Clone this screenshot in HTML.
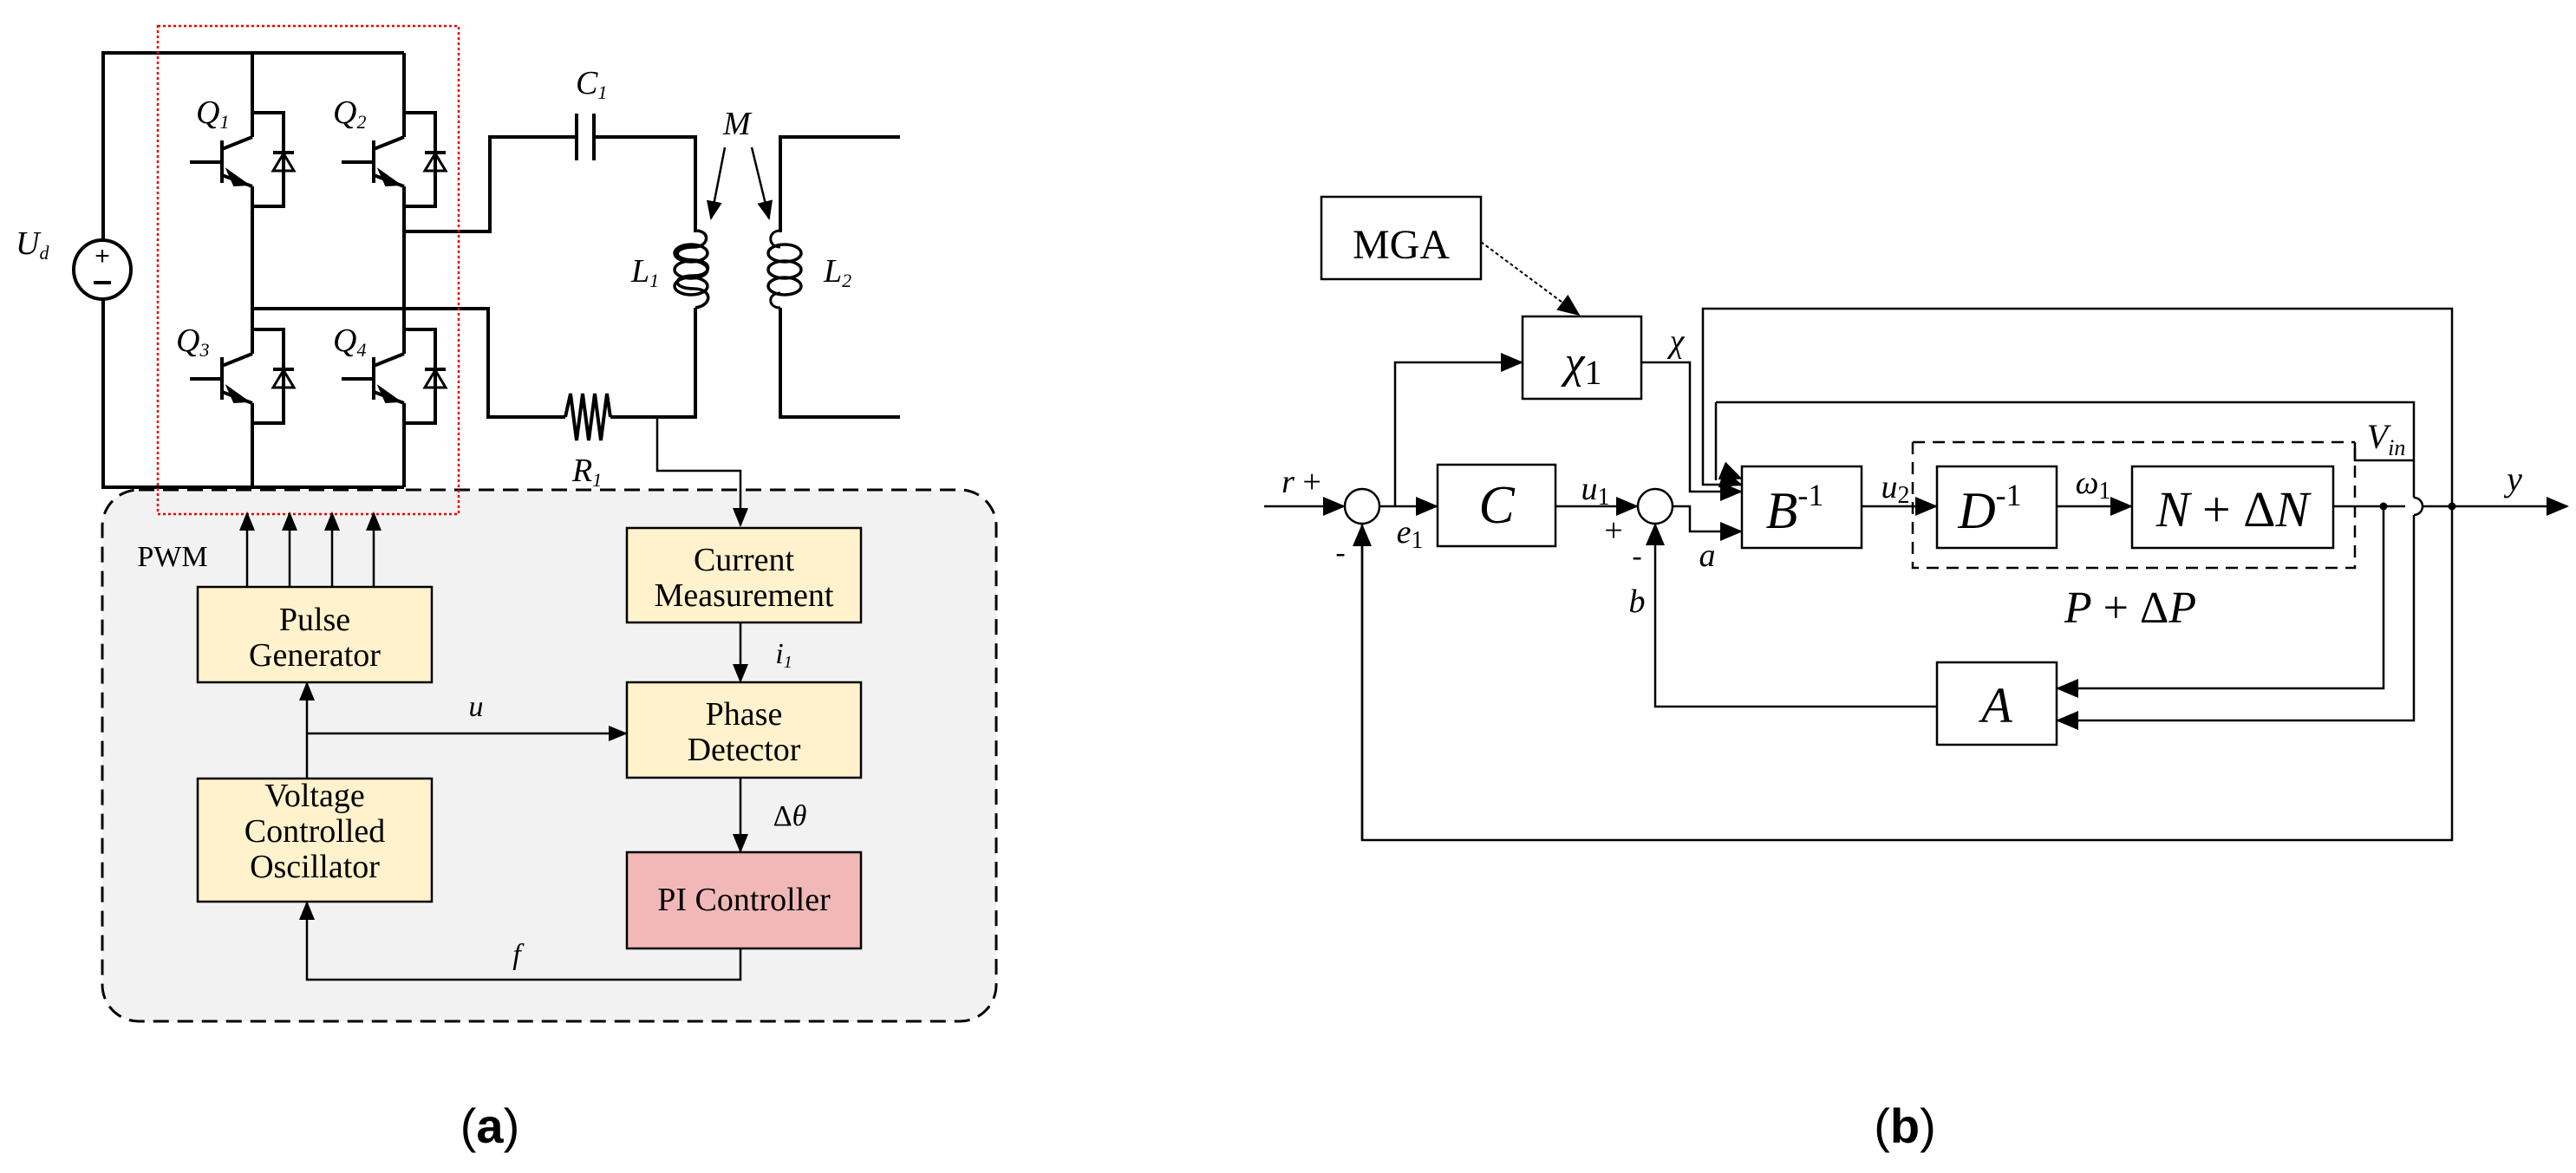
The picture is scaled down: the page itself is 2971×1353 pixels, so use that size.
<!DOCTYPE html>
<html><head><meta charset="utf-8"><style>
html,body{margin:0;padding:0;background:#fff;}
svg{display:block;}
.s{font-family:"Liberation Serif",serif;}
</style></head><body>
<svg width="2971" height="1353" viewBox="0 0 2971 1353" xmlns="http://www.w3.org/2000/svg">
<defs>
<marker id="ah" markerWidth="10" markerHeight="10" refX="9" refY="5" orient="auto" markerUnits="userSpaceOnUse"><path d="M0,0 L10,5 L0,10 z" fill="#000"/></marker>
<marker id="a2" markerWidth="22" markerHeight="22" refX="20" refY="11" orient="auto" markerUnits="userSpaceOnUse"><path d="M0,2 L22,11 L0,20 z" fill="#000"/></marker>
<marker id="a3" markerWidth="26" markerHeight="26" refX="24" refY="13" orient="auto" markerUnits="userSpaceOnUse"><path d="M0,2 L26,13 L0,24 z" fill="#000"/></marker>
</defs>

<!-- ===== (a) ===== -->
<rect x="118" y="565" width="1031" height="613" rx="42" fill="#f2f2f2" stroke="#000" stroke-width="3" stroke-dasharray="18,10"/>

<g stroke="#000" stroke-width="4" fill="none">
<!-- rails -->
<polyline points="291,61 119,61 119,278"/>
<polyline points="119,344 119,562 466,562"/>
<line x1="291" y1="61" x2="466" y2="61"/>
<line x1="291" y1="61" x2="291" y2="158"/>
<line x1="291" y1="215" x2="291" y2="408"/>
<line x1="291" y1="465" x2="291" y2="562"/>
<line x1="466" y1="61" x2="466" y2="158"/>
<line x1="466" y1="215" x2="466" y2="408"/>
<line x1="466" y1="465" x2="466" y2="562"/>
<!-- source -->
<ellipse cx="118" cy="311" rx="33" ry="34"/>
</g>
<text x="118" y="305" font-family="Liberation Sans,sans-serif" font-size="30" text-anchor="middle">+</text>
<line x1="108" y1="326" x2="128" y2="326" stroke="#000" stroke-width="4"/>

<!-- transistors -->
<g id="tr" stroke="#000" stroke-width="4" fill="none">
<line x1="219" y1="187" x2="256" y2="187"/>
<line x1="256" y1="162" x2="256" y2="211"/>
<line x1="256" y1="172" x2="291" y2="158"/>
<line x1="256" y1="202" x2="291" y2="215"/>
<polyline points="291,130 327,130 327,238 291,238"/>
<line x1="315" y1="176" x2="339" y2="176"/>
<path d="M315,197 L339,197 L327,177 z" stroke-width="3"/>
<path d="M262,196 L286,213 L270,214 z" fill="#000" stroke-width="2"/>
</g>
<use href="#tr" transform="translate(175,0)"/>
<use href="#tr" transform="translate(0,250)"/>
<use href="#tr" transform="translate(175,250)"/>

<g stroke="#000" stroke-width="4" fill="none">
<!-- output network -->
<polyline points="466,267 565,267 565,158 665,158"/>
<line x1="665" y1="131" x2="665" y2="185"/>
<line x1="685" y1="131" x2="685" y2="185"/>
<polyline points="685,158 802,158 802,268"/>
<polyline points="802,355 802,481 704,481"/>
<polyline points="704,481 700,454 693,508 686,454 679,508 672,454 665,508 658,454 652,481"/>
<polyline points="652,481 563,481 563,356 291,356"/>
<!-- L1 coil -->
<path d="M802,266 C820,266 818,285 800,285 C775,285 775,300 800,300 C822,300 822,318 800,318 C775,318 775,333 800,333 C822,333 822,352 802,355" stroke-width="3.5"/>
<ellipse cx="797" cy="292" rx="19" ry="10" stroke-width="3.5"/>
<ellipse cx="797" cy="311" rx="19" ry="10" stroke-width="3.5"/>
<ellipse cx="797" cy="330" rx="19" ry="10" stroke-width="3.5"/>
<!-- L2 -->
<polyline points="1038,158 900,158 900,268"/>
<polyline points="900,355 900,481 1038,481"/>
<ellipse cx="905" cy="292" rx="19" ry="10" stroke-width="3.5"/>
<ellipse cx="905" cy="311" rx="19" ry="10" stroke-width="3.5"/>
<ellipse cx="905" cy="330" rx="19" ry="10" stroke-width="3.5"/>
<path d="M900,266 C885,266 885,285 900,285 M900,355 C885,355 885,338 900,338" stroke-width="3"/>
</g>
<line x1="836" y1="170" x2="820" y2="252" stroke="#000" stroke-width="2.5" marker-end="url(#a2)"/>
<line x1="867" y1="170" x2="887" y2="252" stroke="#000" stroke-width="2.5" marker-end="url(#a2)"/>
<polyline points="758,481 758,543 854,543 854,606" fill="none" stroke="#000" stroke-width="2.5" marker-end="url(#a2)"/>

<g class="s" font-style="italic" font-size="38">
<text x="226" y="142">Q<tspan font-size="22" dy="6">1</tspan></text>
<text x="384" y="142">Q<tspan font-size="22" dy="6">2</tspan></text>
<text x="203" y="405">Q<tspan font-size="22" dy="6">3</tspan></text>
<text x="384" y="405">Q<tspan font-size="22" dy="6">4</tspan></text>
<text x="18" y="293">U<tspan font-size="22" dy="6">d</tspan></text>
<text x="664" y="108">C<tspan font-size="22" dy="6">1</tspan></text>
<text x="834" y="155">M</text>
<text x="728" y="325">L<tspan font-size="22" dy="6">1</tspan></text>
<text x="950" y="325">L<tspan font-size="22" dy="6">2</tspan></text>
<text x="660" y="555">R<tspan font-size="22" dy="6">1</tspan></text>
</g>

<!-- red dotted -->
<rect x="182" y="30" width="347" height="563" fill="none" stroke="#e00" stroke-width="2.5" stroke-dasharray="3,3"/>

<!-- control blocks -->
<g stroke="#000" stroke-width="2.5">
<rect x="228" y="677" width="270" height="110" fill="#fff2cc"/>
<rect x="228" y="898" width="270" height="142" fill="#fff2cc"/>
<rect x="723" y="609" width="270" height="109" fill="#fff2cc"/>
<rect x="723" y="787" width="270" height="110" fill="#fff2cc"/>
<rect x="723" y="983" width="270" height="111" fill="#f2b8b8"/>
</g>
<g stroke="#000" stroke-width="2.5" fill="none">
<line x1="285" y1="677" x2="285" y2="592" marker-end="url(#a2)"/>
<line x1="334" y1="677" x2="334" y2="592" marker-end="url(#a2)"/>
<line x1="383" y1="677" x2="383" y2="592" marker-end="url(#a2)"/>
<line x1="431" y1="677" x2="431" y2="592" marker-end="url(#a2)"/>
<line x1="854" y1="718" x2="854" y2="786" marker-end="url(#a2)"/>
<line x1="854" y1="897" x2="854" y2="982" marker-end="url(#a2)"/>
<line x1="354" y1="898" x2="354" y2="788" marker-end="url(#a2)"/>
<line x1="354" y1="846" x2="722" y2="846" marker-end="url(#a2)"/>
<polyline points="854,1094 854,1130 354,1130 354,1041" marker-end="url(#a2)"/>
</g>
<g class="s" font-size="38" text-anchor="middle">
<text x="199" y="653" font-size="34">PWM</text>
<text x="363" y="727">Pulse</text>
<text x="363" y="768">Generator</text>
<text x="363" y="930">Voltage</text>
<text x="363" y="971">Controlled</text>
<text x="363" y="1012">Oscillator</text>
<text x="858" y="658">Current</text>
<text x="858" y="699">Measurement</text>
<text x="858" y="836">Phase</text>
<text x="858" y="877">Detector</text>
<text x="858" y="1050">PI Controller</text>
<text x="549" y="826" font-style="italic" font-size="34">u</text>
<text x="596" y="1112" font-style="italic" font-size="34">f</text>
<text x="904" y="765" font-style="italic" font-size="34">i<tspan font-size="20" dy="5">1</tspan></text>
<text x="911" y="952" font-size="34">Δ<tspan font-style="italic">θ</tspan></text>
</g>
<text x="565" y="1318" font-family="Liberation Sans,sans-serif" font-size="56" text-anchor="middle">(<tspan font-weight="bold">a</tspan>)</text>

<!-- ===== (b) ===== -->
<g stroke="#000" stroke-width="2.5" fill="none">
<rect x="1524" y="227" width="184" height="95"/>
<rect x="1756" y="365" width="137" height="95"/>
<rect x="1658" y="536" width="136" height="94"/>
<rect x="2009" y="538" width="138" height="94"/>
<rect x="2234" y="538" width="138" height="94"/>
<rect x="2459" y="538" width="232" height="94"/>
<rect x="2234" y="764" width="138" height="95"/>
<circle cx="1571" cy="584" r="20"/>
<circle cx="1909" cy="584" r="20"/>
<path d="M2206,510 L2716,510 M2716,531 L2716,510 M2206,510 L2206,655 L2716,655 L2716,531" stroke-dasharray="14,9"/>
<polyline points="2716,510 2716,531 2784,531"/>
<!-- main -->
<line x1="1458" y1="584" x2="1550" y2="584" marker-end="url(#a3)"/>
<line x1="1591" y1="584" x2="1657" y2="584" marker-end="url(#a3)"/>
<polyline points="1609,584 1609,418 1755,418" marker-end="url(#a3)"/>
<line x1="1794" y1="584" x2="1888" y2="584" marker-end="url(#a3)"/>
<polyline points="1929,584 1949,584 1949,613 2008,613" marker-end="url(#a3)"/>
<polyline points="1893,418 1949,418 1949,567 2008,567" marker-end="url(#a3)"/>
<polyline points="1571,605 1571,969 2828,969 2828,356 1964,356 1964,559 2008,559" />
<line x1="1571" y1="969" x2="1571" y2="606" marker-end="url(#a3)"/>
<line x1="1964" y1="545" x2="2008" y2="559" stroke-width="0" marker-end="url(#a3)"/>
<polyline points="1979,464 2784,464 2784,574"/>
<path d="M2784,574 A10,10 0 0 1 2784,594"/>
<polyline points="2784,594 2784,831 2373,831" marker-end="url(#a3)"/>
<line x1="1979" y1="464" x2="1979" y2="554"/>
<line x1="1979" y1="540" x2="2008" y2="552" stroke-width="0" marker-end="url(#a3)"/>
<line x1="2147" y1="584" x2="2233" y2="584" marker-end="url(#a3)"/>
<line x1="2372" y1="584" x2="2458" y2="584" marker-end="url(#a3)"/>
<line x1="2691" y1="584" x2="2774" y2="584"/>
<line x1="2794" y1="584" x2="2961" y2="584" marker-end="url(#a3)"/>
<polyline points="2749,584 2749,794 2373,794" marker-end="url(#a3)"/>
<polyline points="2234,815 1909,815 1909,605" marker-end="url(#a3)"/>
<line x1="1708" y1="279" x2="1821" y2="363" stroke-dasharray="4,3" stroke-width="2" marker-end="url(#a3)"/>
</g>
<circle cx="2749" cy="584" r="4.5" fill="#000"/>
<circle cx="2828" cy="584" r="4.5" fill="#000"/>
<g class="s" font-size="46" text-anchor="middle" font-style="italic">
<text x="1616" y="298" font-style="normal" font-size="48">MGA</text>
<text x="1826" y="435" font-size="52">χ<tspan font-style="normal" font-size="40" dy="8">1</tspan></text>
<text x="1726" y="603" font-size="62">C</text>
<text x="2070" y="609" font-size="60">B<tspan font-style="normal" font-size="36" dy="-26">-1</tspan></text>
<text x="2295" y="609" font-size="60">D<tspan font-style="normal" font-size="36" dy="-26">-1</tspan></text>
<text x="2575" y="607" font-size="58">N<tspan font-style="normal"> + Δ</tspan>N</text>
<text x="2303" y="833" font-size="58">A</text>
<text x="2457" y="718" font-size="52">P<tspan font-style="normal"> + Δ</tspan>P</text>
<text x="1501" y="568" font-size="38">r <tspan font-style="normal">+</tspan></text>
<text x="1546" y="648" font-style="normal" font-size="34">-</text>
<text x="1626" y="626" font-size="38">e<tspan font-style="normal" font-size="28" dy="6">1</tspan></text>
<text x="1840" y="576" font-size="38">u<tspan font-style="normal" font-size="28" dy="6">1</tspan></text>
<text x="1861" y="624" font-style="normal" font-size="38">+</text>
<text x="1888" y="652" font-style="normal" font-size="34">-</text>
<text x="1888" y="706" font-size="38">b</text>
<text x="1969" y="653" font-size="38">a</text>
<text x="1934" y="406" font-size="38">χ</text>
<text x="2186" y="574" font-size="38">u<tspan font-style="normal" font-size="28" dy="6">2</tspan></text>
<text x="2414" y="569" font-size="38">ω<tspan font-style="normal" font-size="28" dy="6">1</tspan></text>
<text x="2752" y="517" font-size="40">V<tspan font-size="26" dy="8">in</tspan></text>
<text x="2900" y="566" font-size="40">y</text>
</g>
<text x="2197" y="1318" font-family="Liberation Sans,sans-serif" font-size="56" text-anchor="middle">(<tspan font-weight="bold">b</tspan>)</text>
</svg>
</body></html>
